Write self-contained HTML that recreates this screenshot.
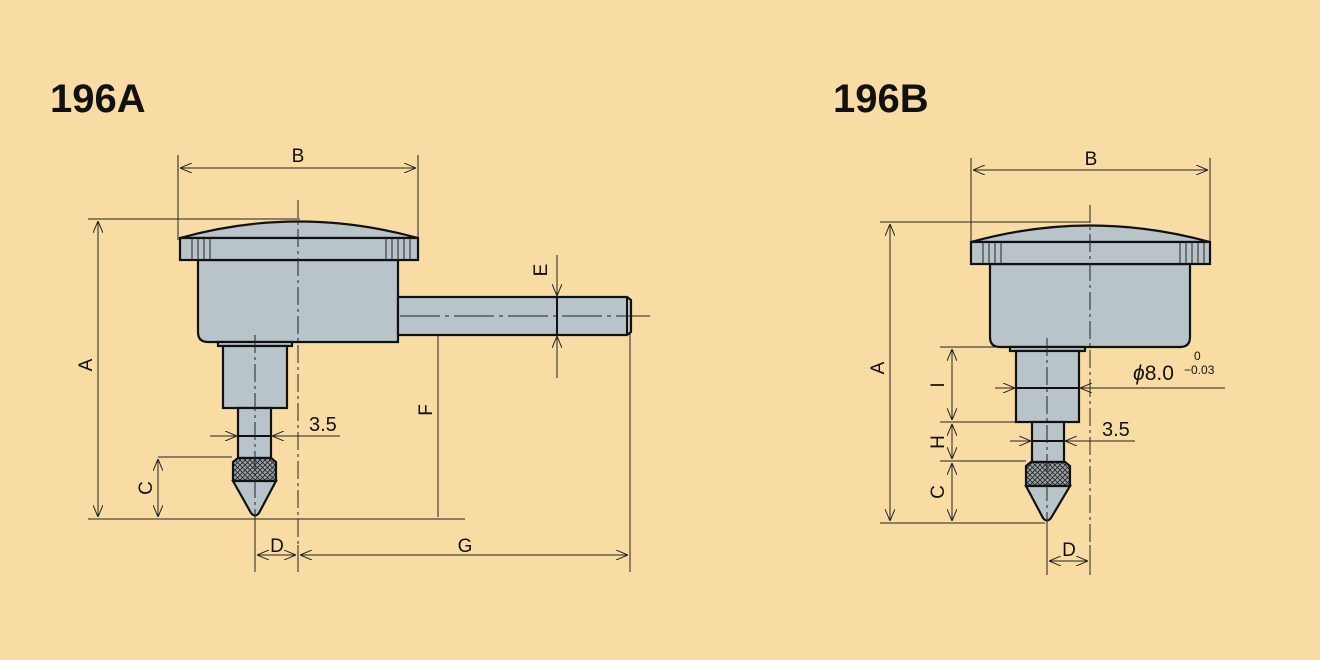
<!DOCTYPE html>
<html><head><meta charset="utf-8"><style>
html,body{margin:0;padding:0;background:#f9dca4;}
svg{display:block}
text{font-family:"Liberation Sans",sans-serif;fill:#111}
</style></head><body>
<svg width="1320" height="660" viewBox="0 0 1320 660" xmlns="http://www.w3.org/2000/svg">
<defs>
<marker id="a" viewBox="0 0 12 10" refX="12" refY="5" markerWidth="12" markerHeight="10" markerUnits="userSpaceOnUse" orient="auto-start-reverse">
<path d="M0,0 L12,5 L0,10" fill="none" stroke="#222" stroke-width="1"/></marker>
<pattern id="k" width="5" height="5" patternUnits="userSpaceOnUse">
<rect width="5" height="5" fill="#9aa4aa"/><path d="M0,0L5,5M5,0L0,5" stroke="#222" stroke-width="0.8"/></pattern>
</defs>
<rect width="1320" height="660" fill="#f9dca4"/>
<text x="50" y="112" font-size="40" font-weight="bold">196A</text>
<text x="833" y="112" font-size="40" font-weight="bold">196B</text>

<g stroke="#222" stroke-width="1" fill="none">
<path d="M178,155V240M418,155V240M88,219H300M88,519H465M158,457H232M255,500V572M298,545V572M630,300V572M557,255V378"/>
<path d="M180,168H416" marker-start="url(#a)" marker-end="url(#a)"/>
<path d="M98,221V517" marker-start="url(#a)" marker-end="url(#a)"/>
<path d="M158,459V517" marker-start="url(#a)" marker-end="url(#a)"/>
<path d="M438,317V517" marker-start="url(#a)"/>
<path d="M257,555H296" marker-start="url(#a)" marker-end="url(#a)"/>
<path d="M300,555H628" marker-start="url(#a)" marker-end="url(#a)"/>
</g>

<g stroke="#111" stroke-width="2.2" fill="#b9c4ca">
<path d="M198,260V332Q198,342 208,342H398V260Z"/>
<path d="M398,297H627L631,300V332L627,335H398Z"/>
<path d="M180,238Q298,205 418,238Z"/>
<rect x="180" y="238" width="238" height="22"/>
<rect x="218" y="342" width="74" height="4"/>
<rect x="223" y="346" width="64" height="62"/>
<rect x="238" y="408" width="33" height="50"/>
<path d="M233,462L238,458H271L276,462V481H233Z" fill="url(#k)"/>
<path d="M233,481H276L259,513Q255,518 251,513Z"/>
</g>
<g stroke="#222" stroke-width="1"><path d="M192,238V260M198,238V260M204,238V260M210,238V260M386,238V260M392,238V260M398,238V260M404,238V260M410,238V260"/></g>
<g stroke="#111" stroke-width="2"><path d="M557,297V335M238,436H271M627,297V335"/></g>
<g stroke="#222" stroke-width="1" fill="none">
<path d="M298,200V572" stroke-dasharray="18,4,3,4"/>
<path d="M255,335V522" stroke-dasharray="18,4,3,4"/>
<path d="M400,316H650" stroke-dasharray="40,5,4,5"/>
<path d="M557,255V296" marker-end="url(#a)"/>
<path d="M557,378V336" marker-end="url(#a)"/>
<path d="M210,436H237" marker-end="url(#a)"/>
<path d="M340,436H272" marker-end="url(#a)"/>
</g>
<text x="298" y="162" font-size="19" text-anchor="middle">B</text>
<text x="309" y="431" font-size="20">3.5</text>
<text x="277" y="552" font-size="19" text-anchor="middle">D</text>
<text x="465" y="552" font-size="19" text-anchor="middle">G</text>
<text transform="translate(92,365) rotate(-90)" font-size="19" text-anchor="middle">A</text>
<text transform="translate(152,488) rotate(-90)" font-size="19" text-anchor="middle">C</text>
<text transform="translate(432,410) rotate(-90)" font-size="19" text-anchor="middle">F</text>
<text transform="translate(547,270) rotate(-90)" font-size="19" text-anchor="middle">E</text>

<g stroke="#222" stroke-width="1" fill="none">
<path d="M971,158V245M1210,158V245M880,222H1090M880,523H1045M940,347H1010M940,422H1030M940,461H1026M1047,505V575M1090,545V575"/>
<path d="M973,170H1208" marker-start="url(#a)" marker-end="url(#a)"/>
<path d="M890,224V521" marker-start="url(#a)" marker-end="url(#a)"/>
<path d="M952,349V420" marker-start="url(#a)" marker-end="url(#a)"/>
<path d="M952,424V459" marker-start="url(#a)" marker-end="url(#a)"/>
<path d="M952,463V521" marker-start="url(#a)" marker-end="url(#a)"/>
<path d="M1049,561H1088" marker-start="url(#a)" marker-end="url(#a)"/>
</g>
<g stroke="#111" stroke-width="2.2" fill="#b9c4ca">
<path d="M990,264V337Q990,347 1000,347H1180Q1190,347 1190,337V264Z"/>
<path d="M971,242Q1090,209 1210,242Z"/>
<rect x="971" y="242" width="239" height="22"/>
<rect x="1010" y="347" width="75" height="4"/>
<rect x="1016" y="351" width="63" height="71"/>
<rect x="1032" y="422" width="32" height="40"/>
<path d="M1026,466L1031,462H1065L1070,466V486H1026Z" fill="url(#k)"/>
<path d="M1026,486H1070L1051,518Q1047,523 1043,518Z"/>
</g>
<g stroke="#222" stroke-width="1"><path d="M983,242V264M989,242V264M995,242V264M1001,242V264M1180,242V264M1186,242V264M1192,242V264M1198,242V264M1204,242V264"/></g>
<g stroke="#111" stroke-width="2"><path d="M1016,388H1079M1032,441H1064"/></g>
<g stroke="#222" stroke-width="1" fill="none">
<path d="M1090,205V575" stroke-dasharray="18,4,3,4"/>
<path d="M1047,338V525" stroke-dasharray="18,4,3,4"/>
<path d="M995,388H1015" marker-end="url(#a)"/>
<path d="M1225,388H1080" marker-end="url(#a)"/>
<path d="M1010,441H1031" marker-end="url(#a)"/>
<path d="M1135,441H1065" marker-end="url(#a)"/>
</g>
<text x="1091" y="165" font-size="19" text-anchor="middle">B</text>
<text x="1102" y="436" font-size="20">3.5</text>
<text x="1069" y="556" font-size="19" text-anchor="middle">D</text>
<text x="1133" y="380" font-size="21"><tspan font-style="italic">ϕ</tspan>8.0</text>
<text x="1194" y="360" font-size="12">0</text>
<text x="1184" y="374" font-size="12">−0.03</text>
<text transform="translate(884,368) rotate(-90)" font-size="19" text-anchor="middle">A</text>
<text transform="translate(944,385) rotate(-90)" font-size="19" text-anchor="middle">I</text>
<text transform="translate(944,442) rotate(-90)" font-size="19" text-anchor="middle">H</text>
<text transform="translate(944,492) rotate(-90)" font-size="19" text-anchor="middle">C</text>
</svg>
</body></html>
